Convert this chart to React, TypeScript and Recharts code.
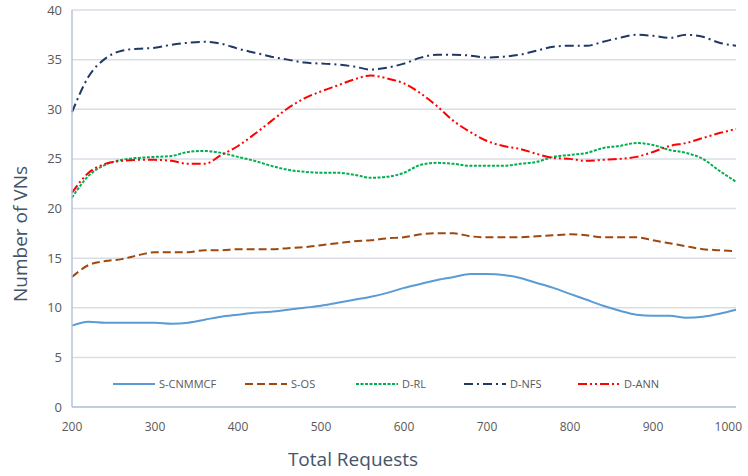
import React from "react";
import { LineChart, Line, XAxis, YAxis, CartesianGrid } from "recharts";

// x positions (total requests)
const requests = [
  200, 220, 240, 260, 280, 300, 320, 340, 360, 380, 400, 420, 440, 460, 480,
  500, 520, 540, 560, 580, 600, 620, 640, 660, 680, 700, 720, 740, 760, 780,
  800, 820, 840, 860, 880, 900, 920, 940, 960, 980, 1000,
];

const sCnmmcf = [
  8.2, 8.6, 8.5, 8.5, 8.5, 8.5, 8.4, 8.5, 8.8, 9.1, 9.3, 9.5, 9.6, 9.8, 10.0,
  10.2, 10.5, 10.8, 11.1, 11.5, 12.0, 12.4, 12.8, 13.1, 13.4, 13.4, 13.3, 13.0,
  12.5, 12.0, 11.4, 10.8, 10.2, 9.7, 9.3, 9.2, 9.2, 9.0, 9.1, 9.4, 9.8,
];

const sOs = [
  13.1, 14.3, 14.7, 14.9, 15.3, 15.6, 15.6, 15.6, 15.8, 15.8, 15.9, 15.9, 15.9,
  16.0, 16.1, 16.3, 16.5, 16.7, 16.8, 17.0, 17.1, 17.4, 17.5, 17.5, 17.2, 17.1,
  17.1, 17.1, 17.2, 17.3, 17.4, 17.3, 17.1, 17.1, 17.1, 16.8, 16.5, 16.2, 15.9,
  15.8, 15.7,
];

const dRl = [
  21.1, 23.3, 24.4, 24.9, 25.1, 25.2, 25.3, 25.7, 25.8, 25.6, 25.2, 24.8, 24.3,
  23.9, 23.7, 23.6, 23.6, 23.4, 23.1, 23.2, 23.6, 24.4, 24.6, 24.5, 24.3, 24.3,
  24.3, 24.5, 24.7, 25.2, 25.4, 25.6, 26.1, 26.3, 26.6, 26.4, 25.9, 25.6, 25.0,
  23.8, 22.7,
];

const dNfs = [
  29.7, 33.3, 35.1, 35.9, 36.1, 36.2, 36.5, 36.7, 36.8, 36.6, 36.1, 35.7, 35.3,
  35.0, 34.7, 34.6, 34.5, 34.3, 34.0, 34.2, 34.6, 35.2, 35.5, 35.5, 35.4, 35.2,
  35.3, 35.5, 35.9, 36.3, 36.4, 36.4, 36.8, 37.2, 37.5, 37.4, 37.2, 37.5, 37.3,
  36.7, 36.4,
];

const dAnn = [
  21.6, 23.6, 24.5, 24.8, 24.9, 24.9, 24.8, 24.5, 24.5, 25.4, 26.3, 27.5, 28.8,
  30.1, 31.1, 31.8, 32.4, 33.0, 33.4, 33.1, 32.6, 31.6, 30.3, 28.8, 27.7, 26.8,
  26.3, 26.0, 25.5, 25.1, 25.0, 24.8, 24.9, 25.0, 25.2, 25.7, 26.3, 26.6, 27.1,
  27.6, 28.0,
];

const xTicks = [200, 300, 400, 500, 600, 700, 800, 900, 1000];
const yTicks = [0, 5, 10, 15, 20, 25, 30, 35, 40];

const series = [
  { key: "S-CNMMCF", values: sCnmmcf, color: "#5B9BD5", dash: undefined },
  { key: "S-OS", values: sOs, color: "#9E480E", dash: "8 4" },
  { key: "D-RL", values: dRl, color: "#00B050", dash: "3 1.5" },
  { key: "D-NFS", values: dNfs, color: "#1F3864", dash: "9 4 2 4" },
  { key: "D-ANN", values: dAnn, color: "#FF0000", dash: "9 3 2 3 2 3" },
];

const data = requests.map((r, i) => {
  const row: Record<string, number> = { x: r };
  series.forEach((s) => (row[s.key] = s.values[i]));
  return row;
});

const font = "'Open Sans', 'Liberation Sans', sans-serif";

// last tick would be cut at the right edge, pull it in
function XTick(props: any) {
  const { x, y, payload } = props;
  const last = payload.value === xTicks[xTicks.length - 1];
  return (
    <text
      x={last ? x + 10 : x}
      y={y}
      dy={12}
      textAnchor={last ? "end" : "middle"}
      fontSize={12}
      fontFamily={font}
      fill="#595959"
    >
      {payload.value}
    </text>
  );
}

// legend sits inside the plot, like the excel original
function LegendRow() {
  const slots = [113, 245, 356, 464, 578];
  return (
    <div
      style={{
        position: "absolute",
        top: 376,
        left: 0,
        width: 748,
        height: 20,
        fontFamily: font,
      }}
    >
      {series.map((s, i) => (
        <div
          key={s.key}
          style={{
            position: "absolute",
            left: slots[i],
            top: 0,
            display: "flex",
            alignItems: "center",
            fontSize: 11,
            color: "#595959",
          }}
        >
          <svg width={42} height={10} style={{ marginRight: 4 }}>
            <line
              x1={0}
              y1={5}
              x2={42}
              y2={5}
              stroke={s.color}
              strokeWidth={2}
              strokeDasharray={s.dash}
            />
          </svg>
          {s.key}
        </div>
      ))}
    </div>
  );
}

export default function App() {
  return (
    <div
      style={{
        position: "fixed",
        left: 0,
        top: 0,
        width: 748,
        height: 476,
        background: "#fff",
      }}
    >
      <LineChart
        width={748}
        height={476}
        data={data}
        margin={{ top: 10, right: 12, bottom: 0, left: 32 }}
      >
        <CartesianGrid vertical={false} stroke="#D9DDE4" strokeWidth={1.5} />
        <XAxis
          dataKey="x"
          type="number"
          domain={[200, 1000]}
          ticks={xTicks}
          tickLine={false}
          axisLine={{ stroke: "#B4C4DC", strokeWidth: 1.5 }}
          tick={<XTick />}
          tickMargin={6}
          height={69}
        />
        <YAxis
          domain={[0, 40]}
          ticks={yTicks}
          tickLine={false}
          axisLine={{ stroke: "#B4C4DC", strokeWidth: 1.5 }}
          tick={{ fill: "#595959", fontSize: 13, fontFamily: font }}
          tickMargin={4}
          width={40}
        />
        {series.map((s) => (
          <Line
            key={s.key}
            type="monotone"
            dataKey={s.key}
            stroke={s.color}
            strokeWidth={2}
            strokeDasharray={s.dash}
            dot={false}
            activeDot={false}
            isAnimationActive={false}
          />
        ))}
      </LineChart>
      <LegendRow />
      <div
        style={{
          position: "absolute",
          left: 0,
          width: 706,
          top: 446,
          textAlign: "center",
          fontFamily: font,
          fontSize: 19,
          color: "#44546A",
        }}
      >
        Total Requests
      </div>
      <div
        style={{
          position: "absolute",
          left: 20,
          top: 234,
          transform: "translate(-50%, -50%) rotate(-90deg)",
          whiteSpace: "nowrap",
          fontFamily: font,
          fontSize: 19,
          color: "#44546A",
        }}
      >
        Number of VNs
      </div>
    </div>
  );
}
